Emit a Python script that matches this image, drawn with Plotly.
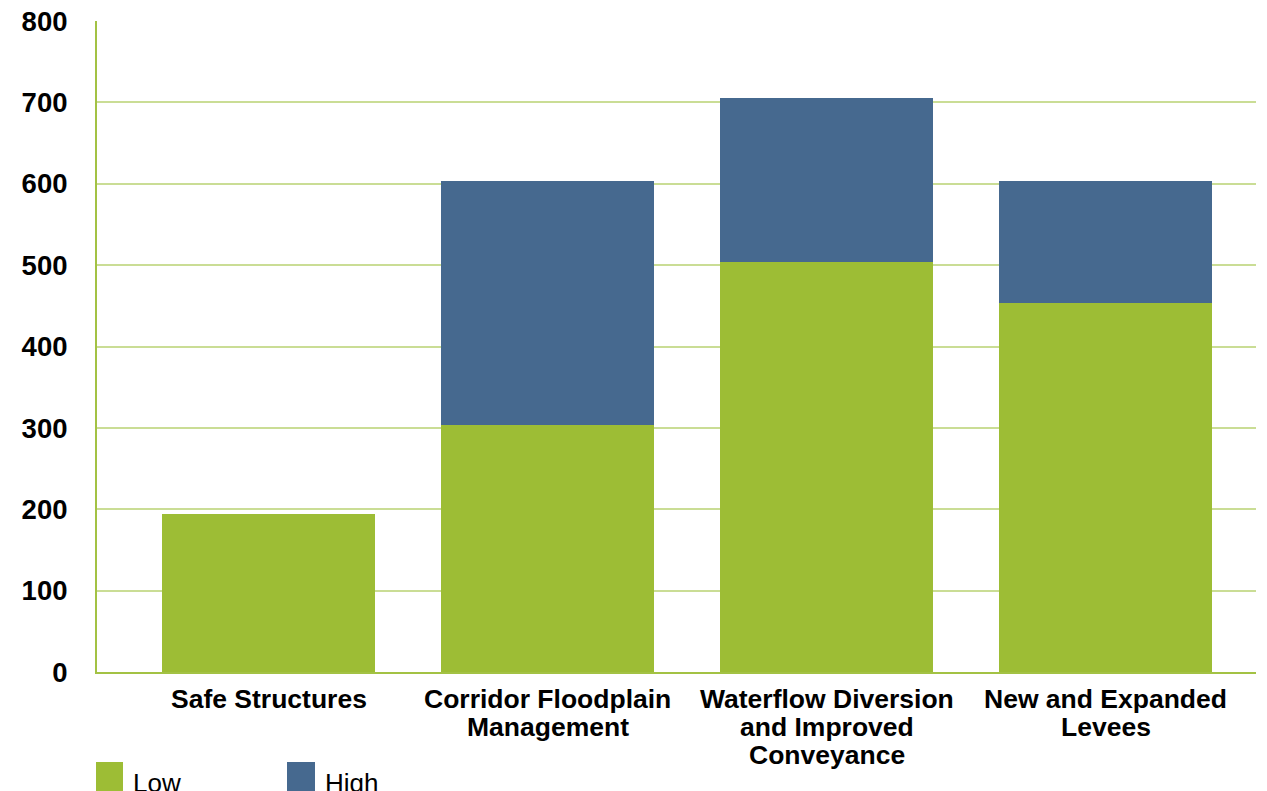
import plotly.graph_objects as go

categories = ["Safe Structures", "Corridor Floodplain Management",
              "Waterflow Diversion and Improved Conveyance", "New and Expanded Levees"]
category_lines = [["Safe Structures"],
                  ["Corridor Floodplain", "Management"],
                  ["Waterflow Diversion", "and Improved", "Conveyance"],
                  ["New and Expanded", "Levees"]]
low_values = [194, 303, 504, 454]
high_values = [0, 301, 201, 150]
y_ticks = [0, 100, 200, 300, 400, 500, 600, 700, 800]

GREEN = "#9dbd35"
BLUE = "#46698f"
GRID = "#cadd95"
AXIS = "#a3c244"

W, H = 1267, 791
L, R, T, B = 97, 11, 21, 119
PH = H - T - B
PW = W - L - R


def px_x(px):
    return (px - L) / PW


def px_y(py):
    return (H - B - py) / PH


xs = list(range(len(categories)))
fig = go.Figure()
fig.add_trace(go.Bar(x=xs, y=low_values, name="Low",
                     marker=dict(color=GREEN, line=dict(width=0))))
fig.add_trace(go.Bar(x=xs, y=high_values, name="High",
                     marker=dict(color=BLUE, line=dict(width=0))))

font_family = "Liberation Sans, Arial, sans-serif"

fig.update_layout(
    width=W, height=H,
    margin=dict(l=L, r=R, t=T, b=B, pad=0),
    barmode="stack",
    bargap=0.237,
    plot_bgcolor="white",
    paper_bgcolor="white",
    showlegend=False,
    font=dict(family=font_family, color="black"),
    xaxis=dict(
        range=[-0.615, 3.539],
        tickmode="array",
        tickvals=xs,
        ticktext=categories,
        showticklabels=False,
        showgrid=False,
        showline=True, linecolor=AXIS, linewidth=2,
        ticks="", zeroline=False, automargin=False,
    ),
    yaxis=dict(
        range=[0, 800],
        tickmode="array",
        tickvals=y_ticks,
        ticktext=[f"<b>{v}</b>" for v in y_ticks],
        tickfont=dict(size=27.5, family=font_family, color="black"),
        showgrid=True, gridcolor=GRID, gridwidth=1.5,
        showline=True, linecolor=AXIS, linewidth=2,
        ticks="", zeroline=False, automargin=False,
        ticklabelstandoff=22,
    ),
)

# category labels, one annotation per line for tight line spacing
line_centers = [699, 727, 755]
for xi, lines in zip(xs, category_lines):
    for li, text in enumerate(lines):
        fig.add_annotation(xref="x", yref="paper", x=xi, y=px_y(line_centers[li]),
                           text=f"<b>{text}</b>", showarrow=False,
                           xanchor="center", yanchor="middle",
                           font=dict(size=26.5, family=font_family, color="black"))

# legend drawn manually to match large square swatches
legend_items = [("Low", GREEN, 96, 123, 131), ("High", BLUE, 287, 315, 323)]
for name, color, x0, x1, tx in legend_items:
    fig.add_shape(type="rect", xref="paper", yref="paper",
                  x0=px_x(x0), x1=px_x(x1), y0=px_y(800), y1=px_y(762),
                  fillcolor=color, line=dict(width=0), layer="above")
    fig.add_annotation(xref="paper", yref="paper", x=px_x(tx), y=px_y(783),
                       text=name, showarrow=False, xanchor="left", yanchor="middle",
                       font=dict(size=26, family=font_family, color="black"))

fig.write_html("out.html")
